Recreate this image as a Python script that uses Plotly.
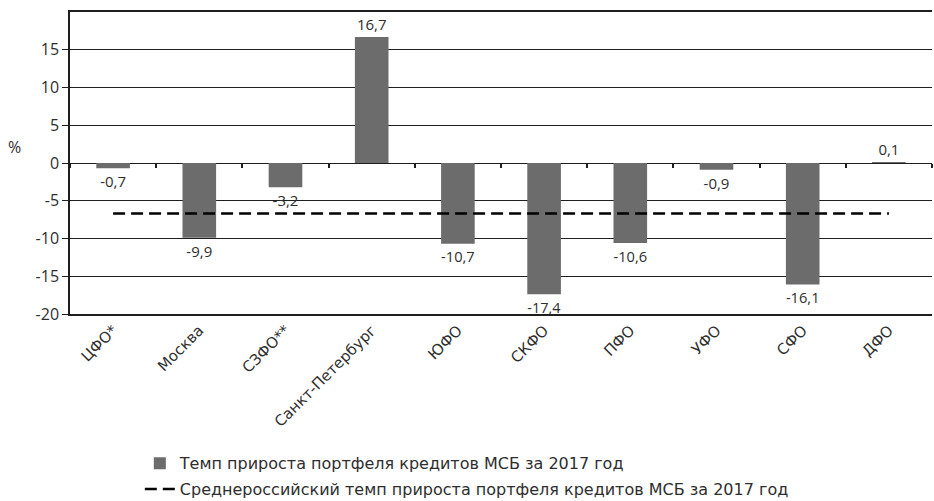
import plotly.graph_objects as go

# Federal districts and cities
categories = ["ЦФО*", "Москва", "СЗФО**", "Санкт-Петербург", "ЮФО",
              "СКФО", "ПФО", "УФО", "СФО", "ДФО"]
# SME loan portfolio growth rate in 2017, %
growth = [-0.7, -9.9, -3.2, 16.7, -10.7, -17.4, -10.6, -0.9, -16.1, 0.1]
# Russian average growth rate, %
avg_growth = -6.7

y_range = [-20, 20]
y_ticks = [-20, -15, -10, -5, 0, 5, 10, 15]

bar_name = "Темп прироста портфеля кредитов МСБ за 2017 год"
avg_name = "Среднероссийский темп прироста портфеля кредитов МСБ за 2017 год"

NUM_FONT = "Open Sans, Noto Sans, sans-serif"
TXT_FONT = "DejaVu Sans, Noto Sans, sans-serif"
TEXT_COLOR = "#2e2e2e"
LINE_COLOR = "#1e1e1e"


def fmt(v):
    return f"{v:.1f}".replace(".", ",")


fig = go.Figure()

fig.add_trace(go.Bar(
    x=categories,
    y=growth,
    name=bar_name,
    legendgroup="bars",
    marker=dict(color="#6c6c6c", line=dict(width=0)),
    width=0.39,
    text=[fmt(v) for v in growth],
    textposition="outside",
    textfont=dict(family=NUM_FONT, size=15, color=TEXT_COLOR),
    cliponaxis=False,
))

fig.add_trace(go.Scatter(
    x=[categories[0], categories[-1]],
    y=[avg_growth, avg_growth],
    mode="lines",
    name=avg_name,
    legendgroup="avg",
    line=dict(color="black", width=2.5, dash="12px,6px"),
))

# invisible carrier trace for the category tick marks drawn along y = 0
fig.add_trace(go.Scatter(
    x=categories, y=growth, mode="none", xaxis="x2",
    showlegend=False, hoverinfo="skip",
))

zero_pos = (0 - y_range[0]) / (y_range[1] - y_range[0])

fig.update_layout(
    width=934,
    height=501,
    margin=dict(l=70, r=2, t=12, b=187, autoexpand=False),
    paper_bgcolor="white",
    plot_bgcolor="white",
    font=dict(family=TXT_FONT, size=15, color=TEXT_COLOR),
    showlegend=True,
    legend=dict(
        x=0.081, y=-0.438, xanchor="left", yanchor="top",
        font=dict(family=TXT_FONT, size=16, color=TEXT_COLOR),
        bgcolor="rgba(0,0,0,0)",
        traceorder="grouped",
        tracegroupgap=2,
        itemwidth=30,
    ),
    xaxis2=dict(
        type="category",
        overlaying="x",
        matches="x",
        anchor="free",
        position=zero_pos,
        side="bottom",
        showticklabels=False,
        showgrid=False,
        showline=False,
        ticks="outside",
        tickson="boundaries",
        ticklen=4,
        tickwidth=1.5,
        tickcolor=LINE_COLOR,
    ),
)

fig.layout.xaxis.update(
    type="category",
    tickangle=-45,
    tickfont=dict(family=TXT_FONT, size=15, color=TEXT_COLOR),
    showline=True,
    linecolor=LINE_COLOR,
    linewidth=1.5,
    mirror=True,
    showgrid=False,
    ticks="",
    automargin=False,
)

fig.update_yaxes(
    range=y_range,
    tickvals=y_ticks,
    ticktext=[str(v) for v in y_ticks],
    tickfont=dict(family=NUM_FONT, size=16, color=TEXT_COLOR),
    showgrid=True,
    gridcolor=LINE_COLOR,
    gridwidth=1.2,
    zeroline=True,
    zerolinecolor=LINE_COLOR,
    zerolinewidth=1.2,
    showline=True,
    linecolor=LINE_COLOR,
    linewidth=1.5,
    ticks="outside",
    ticklen=6,
    tickcolor=LINE_COLOR,
    automargin=False,
)

fig.add_annotation(
    text="%", xref="paper", yref="paper",
    x=-0.064, y=0.553, xanchor="center", yanchor="middle",
    showarrow=False, font=dict(family=NUM_FONT, size=16, color=TEXT_COLOR),
)

fig.write_html("out.html")
